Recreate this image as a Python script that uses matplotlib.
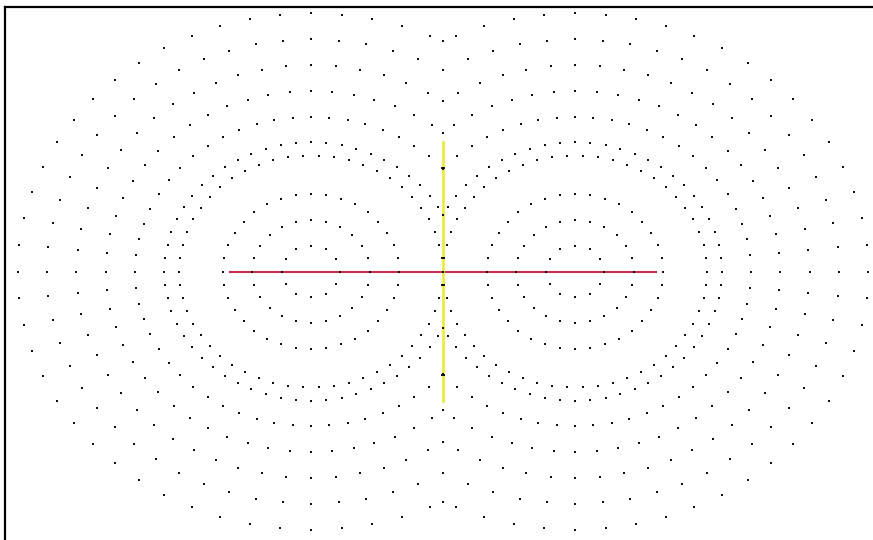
import numpy as np
import matplotlib.pyplot as plt

# two centres on the horizontal axis
centres = [-9, 9]
# rings drawn round each centre and the number of dots per full ring
ring_radii = [2, 4, 6, 9, 10, 12, 14, 16, 18, 20]
ring_dots = [12, 24, 36, 54, 60, 60, 60, 60, 60, 60]

# red (horizontal) and yellow (vertical) segments
red_x = [-14.5, 14.5]
red_y = [0, 0]
yellow_x = [0, 0]
yellow_y = [-10, 10]

xs, ys = [], []
for c in centres:
    side = np.sign(c)
    for r, n in zip(ring_radii, ring_dots):
        ang = np.arange(n) * 2 * np.pi / n
        px = c + r * np.cos(ang)
        py = r * np.sin(ang)
        keep = px * side >= -1e-9
        xs.extend(px[keep])
        ys.extend(py[keep])
        # rings wider than the gap meet on the middle line
        if r > abs(c):
            h = np.sqrt(r**2 - c**2)
            xs.extend([0, 0])
            ys.extend([h, -h])

fig = plt.figure(figsize=(8.73, 5.4), dpi=100)
ax = fig.add_axes([5 / 873, 0, 1 - 5 / 873, 1 - 7 / 540])

ax.plot(red_x, red_y, color='#c4304c', lw=1.5, zorder=2)
ax.plot(yellow_x, yellow_y, color='#ecec40', lw=2.0, zorder=2)
ax.plot(xs, ys, 's', color='#111111', markersize=2.1, markeredgewidth=0, zorder=3)

ax.set_xlim(-29.86, 29.31)
ax.set_ylim(-20.81, 20.5)
ax.set_xticks([])
ax.set_yticks([])
for s in ['right', 'bottom']:
    ax.spines[s].set_visible(False)
for s in ['left', 'top']:
    ax.spines[s].set_linewidth(1.6)

fig.savefig('out.png', dpi=100)
